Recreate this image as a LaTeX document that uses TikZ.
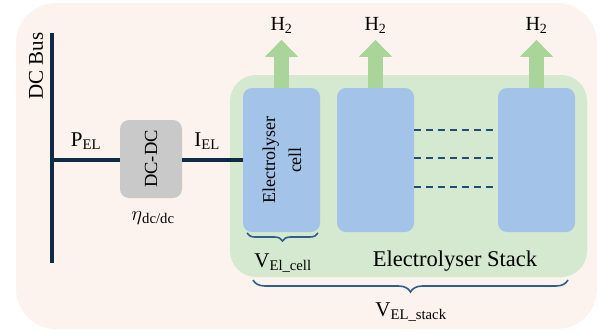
\documentclass[tikz,border=0pt]{standalone}
\usepackage{fontspec}
\setmainfont{Liberation Serif}
\usetikzlibrary{decorations.pathreplacing,arrows.meta}
\definecolor{bgpink}{HTML}{FDF3EE}
\definecolor{stackgreen}{HTML}{D5E8D0}
\definecolor{cellblue}{HTML}{A3C3E8}
\definecolor{convgray}{HTML}{C9C9C9}
\definecolor{navy}{HTML}{0E2A47}
\definecolor{dashblue}{HTML}{1F4E79}
\definecolor{arrowgreen}{HTML}{A9D59B}
\definecolor{braceblue}{HTML}{2E5E8C}
\tikzset{
  cellbox/.style={fill=cellblue, rounded corners=9pt, minimum width=77pt, minimum height=144pt, inner sep=0pt},
  convbox/.style={fill=convgray, rounded corners=9pt, minimum width=62pt, minimum height=78pt, inner sep=0pt},
  stackbox/.style={fill=stackgreen, rounded corners=26pt, minimum width=357pt, minimum height=202pt, inner sep=0pt},
  wire/.style={draw=navy, line width=4pt},
  dashline/.style={draw=dashblue, line width=2pt, dash pattern=on 7pt off 5pt},
  hout/.style={draw=arrowgreen, line width=15pt, -{Triangle[width=32pt,length=17pt]}},
  bracestyle/.style={draw=braceblue, line width=1.6pt, decorate},
  lbl/.style={font=\fontsize{21}{23}\selectfont, inner sep=0pt},
}
\begin{document}
\begin{tikzpicture}[x=1pt,y=-1pt]
\useasboundingbox (0,0) rectangle (602,332);
\fill[bgpink, rounded corners=40pt] (16,3) rectangle (597,329);
% stack
\node[stackbox] (stack) at (408.5,176) {};
% cells
\node[cellbox] (cell1) at (281.5,160) {};
\node[cellbox] (cell2) at (375.5,160) {};
\node[cellbox] (cell3) at (536.5,160) {};
\node[rotate=90, align=center, font=\fontsize{18}{26}\selectfont, inner sep=0pt] (celltxt) at (282,160) {Electrolyser\\cell};
% converter
\node[convbox] (dcdc) at (151,159) {};
\node[rotate=90, font=\fontsize{18.5}{20}\selectfont, inner sep=0pt] (dcdctxt) at (dcdc.center) {DC-DC};
% bus
\coordinate (bustop) at (52,33);
\coordinate (busbot) at (52,263);
\coordinate (busjoin) at (52,160);
\draw[wire] (bustop) -- (busbot);
\draw[wire] (busjoin) -- (dcdc.west |- busjoin);
\draw[wire] (dcdc.east |- busjoin) -- (cell1.west |- busjoin);
\node[lbl, rotate=90] (buslbl) at (36,66) {DC Bus};
\node[lbl] (pel) at (86,141) {P\textsubscript{EL}};
\node[lbl] (iel) at (207,141) {I\textsubscript{EL}};
\node[lbl] (eta) at (153,218) {$\eta$\textsubscript{dc/dc}};
% dashed links
\foreach \yy/\nm in {130/a,158/b,187/c}{
  \draw[dashline] (cell2.east |- 0,\yy) -- (cell3.west |- 0,\yy);
}
% H2 arrows
\foreach \c/\nm in {cell1/h1,cell2/h2,cell3/h3}{
  \draw[hout] (\c.north) -- ++(0,-48);
  \node[lbl, font=\fontsize{20}{22}\selectfont] (\nm) at ([yshift=62pt]\c.north) {H\textsubscript{2}};
}
% labels
\node[lbl, font=\fontsize{22.5}{24}\selectfont] (stacklbl) at (455,261) {Electrolyser Stack};
% braces
\draw[bracestyle, decoration={brace, mirror, amplitude=8pt}] (247,233) -- (318,233);
\node[lbl] (vcell) at (283,263) {V\textsubscript{El\_cell}};
\draw[bracestyle, decoration={brace, mirror, amplitude=12pt}] (253,280) -- (568,280);
\node[lbl] (vstack) at (411,312) {V\textsubscript{EL\_stack}};
\end{tikzpicture}
\end{document}
